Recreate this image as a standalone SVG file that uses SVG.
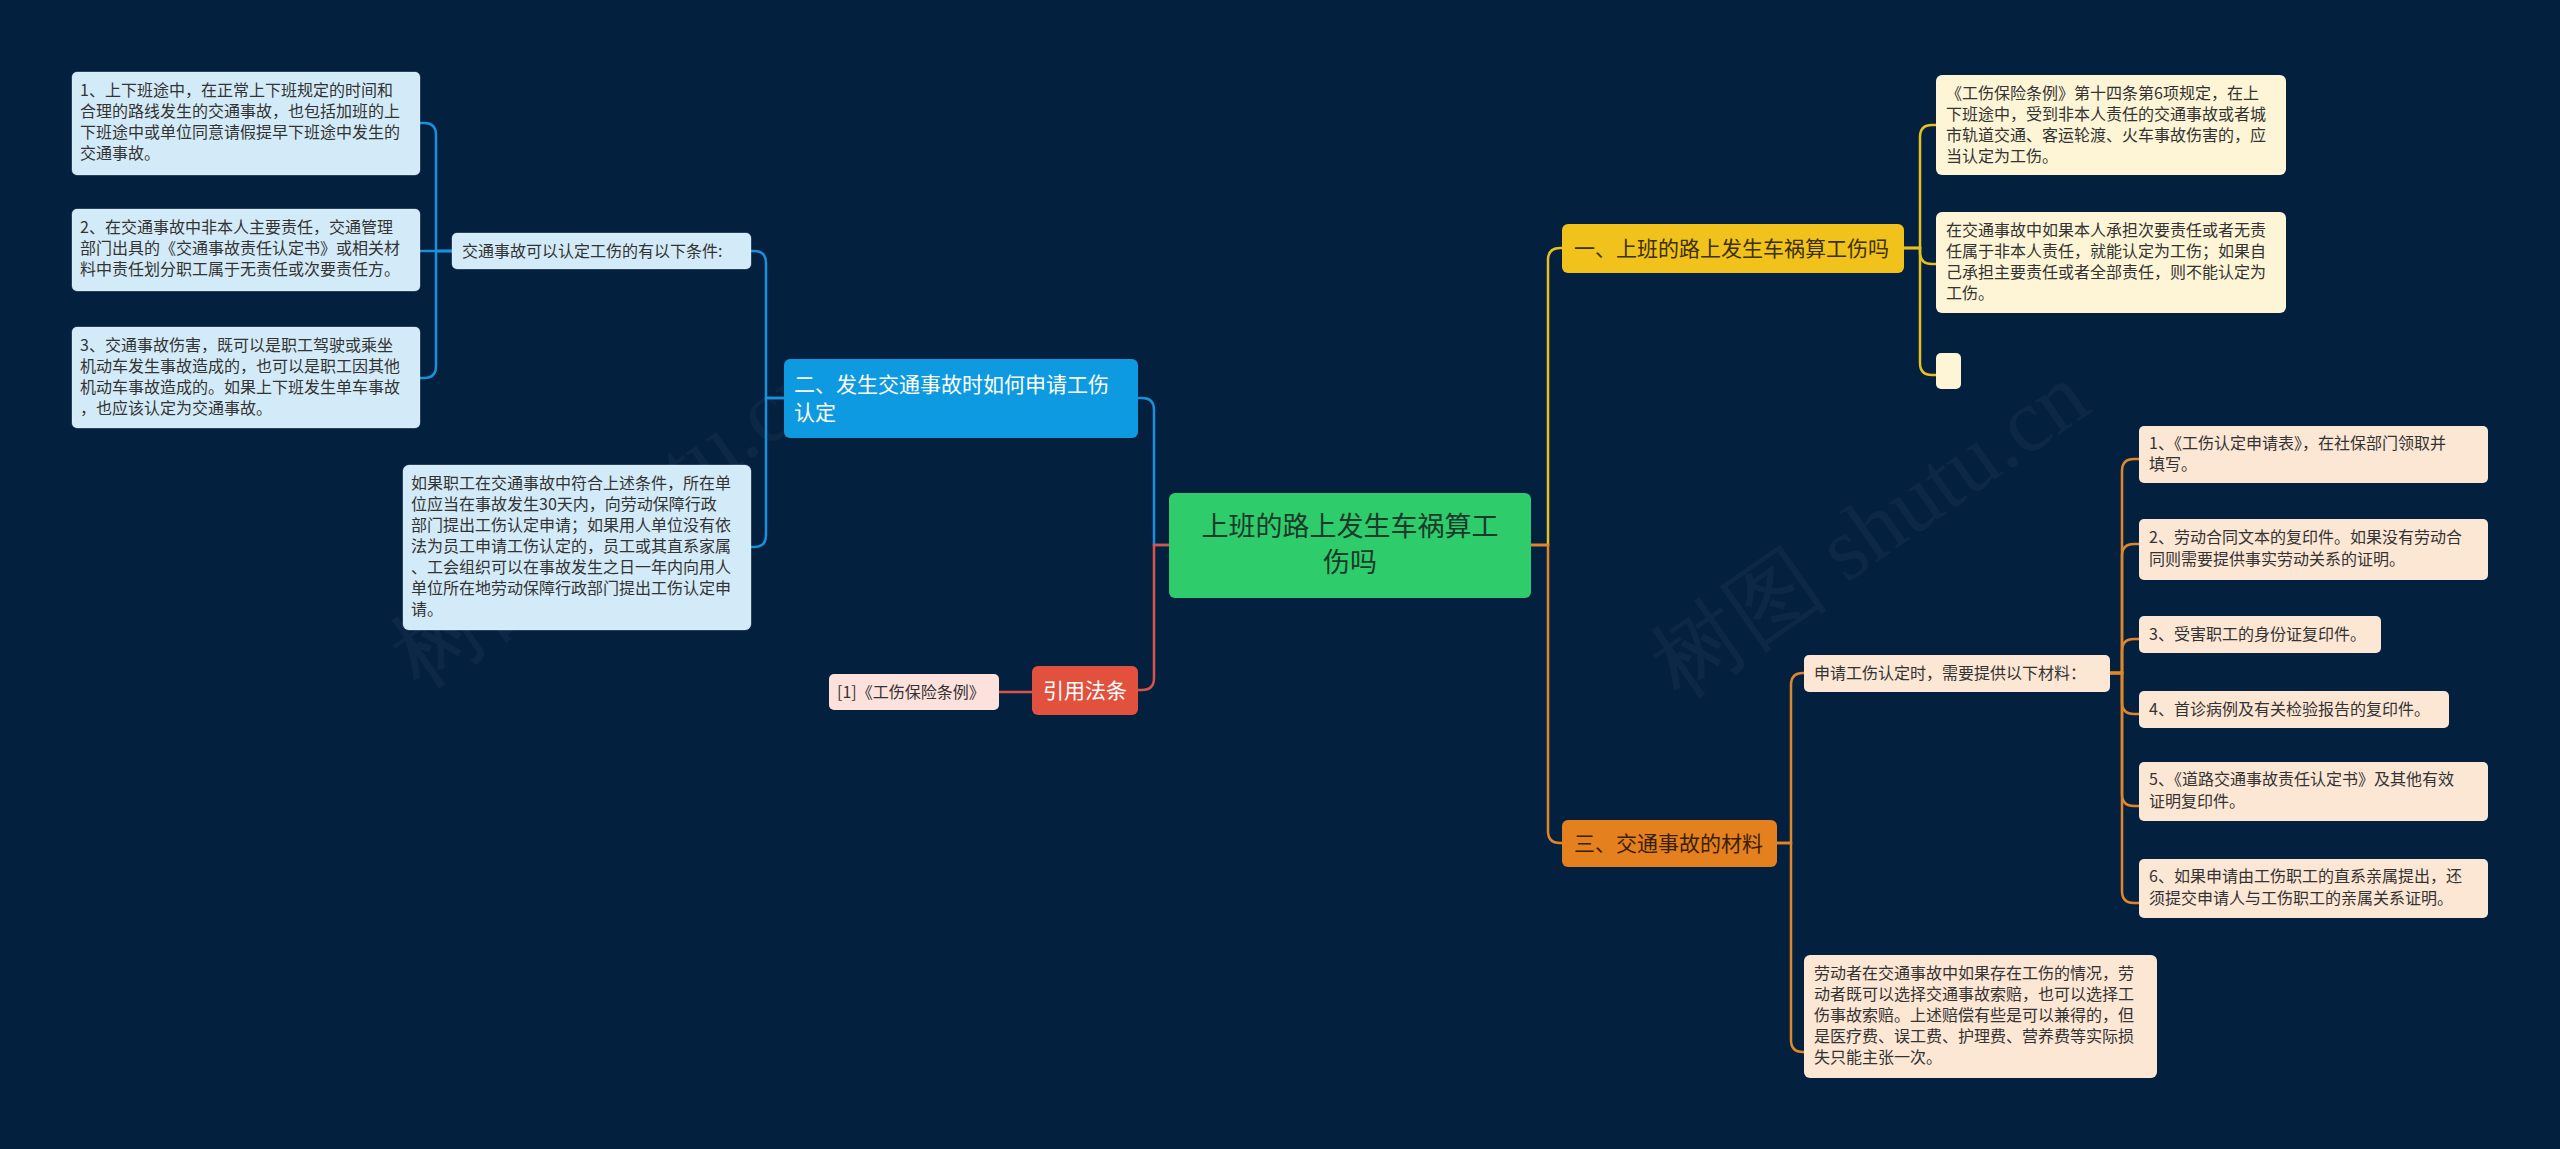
<svg xmlns="http://www.w3.org/2000/svg" width="2560" height="1149" viewBox="0 0 2560 1149">
<style>
text{font-family:"Noto Sans CJK SC","Noto Sans",sans-serif;}
.s{font-size:16px;fill:#333;}
.b{font-size:21px;}
.lb{fill:#d3ebf8;stroke:#ffffff;stroke-opacity:.3;}
.py{fill:#fdf5d6;}
.pc{fill:#fce6d4;}
.cb{fill:none;stroke:#1a8fdc;stroke-width:2.5;}
.cy{fill:none;stroke:#e8bf20;stroke-width:2.5;}
.co{fill:none;stroke:#e0862a;stroke-width:2.5;}
.cr{fill:none;stroke:#d9534a;stroke-width:2.5;}
.wm{font-family:"Liberation Serif",serif;font-size:90px;fill:#ffffff;fill-opacity:0.04;}
</style>
<rect width="2560" height="1149" fill="#03203f"/>
<text class="wm" transform="translate(420,690) rotate(-35)">树图 shutu.cn</text>
<text class="wm" transform="translate(1680,700) rotate(-35)">树图 shutu.cn</text>
<g id="connectors">
<path class="cy" d="M1531 545 L1548 545 L1548 260 Q1548 248 1560 248 L1562 248"/>
<path class="co" d="M1531 545 L1548 545 L1548 831 Q1548 843 1560 843 L1562 843"/>
<path class="cy" d="M1904 248 L1920 248 L1920 137 Q1920 125 1932 125 L1936 125"/>
<path class="cy" d="M1904 248 L1920 248 L1920 252 Q1920 264 1932 264 L1936 264"/>
<path class="cy" d="M1904 248 L1920 248 L1920 363 Q1920 375 1932 375 L1936 375"/>
<path class="co" d="M1777 843 L1791 843 L1791 685 Q1791 673 1803 673 L1804 673"/>
<path class="co" d="M1777 843 L1791 843 L1791 1040 Q1791 1052 1803 1052 L1804 1052"/>
<path class="co" d="M2110 673 L2122 673 L2122 471 Q2122 459 2134 459 L2139 459"/>
<path class="co" d="M2110 673 L2122 673 L2122 556 Q2122 544 2134 544 L2139 544"/>
<path class="co" d="M2110 673 L2122 673 L2122 651 Q2122 639 2134 639 L2139 639"/>
<path class="co" d="M2110 673 L2122 673 L2122 702 Q2122 714 2134 714 L2139 714"/>
<path class="co" d="M2110 673 L2122 673 L2122 794 Q2122 806 2134 806 L2139 806"/>
<path class="co" d="M2110 673 L2122 673 L2122 891 Q2122 903 2134 903 L2139 903"/>
<path class="cb" d="M1169 545 L1154 545 L1154 410 Q1154 398 1142 398 L1138 398"/>
<path class="cr" d="M1169 545 L1154 545 L1154 678 Q1154 690 1142 690 L1138 690"/>
<path class="cb" d="M784 398 L766 398 L766 263 Q766 251 754 251 L751 251"/>
<path class="cb" d="M784 398 L766 398 L766 535 Q766 547 754 547 L751 547"/>
<path class="cb" d="M452 251 L436 251 L436 135 Q436 123 424 123 L420 123"/>
<path class="cb" d="M452 251 L420 251"/>
<path class="cb" d="M452 251 L436 251 L436 366 Q436 378 424 378 L420 378"/>
<path class="cr" d="M1032 692 L999 692"/>
</g>
<g id="center"><rect x="1169" y="493" width="362" height="105" rx="6" fill="#2fcc6b"/>
<text x="1350" y="536" font-size="27" fill="#1a3a2a" text-anchor="middle">上班的路上发生车祸算工</text>
<text x="1350" y="572" font-size="27" fill="#1a3a2a" text-anchor="middle">伤吗</text></g>
<g id="b1"><rect x="1562" y="224" width="342" height="49" rx="6" fill="#f1c21b"/>
<text class="b" x="1574" y="256" fill="#3a3000">一、上班的路上发生车祸算工伤吗</text></g>
<g id="b1c1"><rect class="py" x="1936" y="75" width="350" height="100" rx="6"/>
<text class="s"><tspan x="1946" y="99">《工伤保险条例》第十四条第6项规定，在上</tspan><tspan x="1946" y="120">下班途中，受到非本人责任的交通事故或者城</tspan><tspan x="1946" y="141">市轨道交通、客运轮渡、火车事故伤害的，应</tspan><tspan x="1946" y="162">当认定为工伤。</tspan></text></g>
<g id="b1c2"><rect class="py" x="1936" y="212" width="350" height="101" rx="6"/>
<text class="s"><tspan x="1946" y="236">在交通事故中如果本人承担次要责任或者无责</tspan><tspan x="1946" y="257">任属于非本人责任，就能认定为工伤；如果自</tspan><tspan x="1946" y="278">己承担主要责任或者全部责任，则不能认定为</tspan><tspan x="1946" y="299">工伤。</tspan></text></g>
<g id="b1c3"><rect class="py" x="1936" y="353" width="25" height="36" rx="5"/></g>
<g id="b3"><rect x="1562" y="820" width="215" height="47" rx="6" fill="#e5801f"/>
<text class="b" x="1574" y="851" fill="#3a1e00">三、交通事故的材料</text></g>
<g id="b3c1"><rect class="pc" x="1804" y="655" width="306" height="37" rx="5"/>
<text class="s" x="1814" y="679">申请工伤认定时，需要提供以下材料：</text></g>
<g id="m1"><rect class="pc" x="2139" y="426" width="349" height="57" rx="5"/>
<text class="s"><tspan x="2149" y="449">1、《工伤认定申请表》，在社保部门领取并</tspan><tspan x="2149" y="470">填写。</tspan></text></g>
<g id="m2"><rect class="pc" x="2139" y="519" width="349" height="61" rx="5"/>
<text class="s"><tspan x="2149" y="543">2、劳动合同文本的复印件。如果没有劳动合</tspan><tspan x="2149" y="565">同则需要提供事实劳动关系的证明。</tspan></text></g>
<g id="m3"><rect class="pc" x="2139" y="616" width="242" height="37" rx="5"/>
<text class="s" x="2149" y="640">3、受害职工的身份证复印件。</text></g>
<g id="m4"><rect class="pc" x="2139" y="691" width="310" height="37" rx="5"/>
<text class="s" x="2149" y="715">4、首诊病例及有关检验报告的复印件。</text></g>
<g id="m5"><rect class="pc" x="2139" y="762" width="349" height="59" rx="5"/>
<text class="s"><tspan x="2149" y="785">5、《道路交通事故责任认定书》及其他有效</tspan><tspan x="2149" y="807">证明复印件。</tspan></text></g>
<g id="m6"><rect class="pc" x="2139" y="859" width="349" height="59" rx="5"/>
<text class="s"><tspan x="2149" y="882">6、如果申请由工伤职工的直系亲属提出，还</tspan><tspan x="2149" y="904">须提交申请人与工伤职工的亲属关系证明。</tspan></text></g>
<g id="b3c2"><rect class="pc" x="1804" y="955" width="353" height="123" rx="6"/>
<text class="s"><tspan x="1814" y="979">劳动者在交通事故中如果存在工伤的情况，劳</tspan><tspan x="1814" y="1000">动者既可以选择交通事故索赔，也可以选择工</tspan><tspan x="1814" y="1021">伤事故索赔。上述赔偿有些是可以兼得的，但</tspan><tspan x="1814" y="1042">是医疗费、误工费、护理费、营养费等实际损</tspan><tspan x="1814" y="1063">失只能主张一次。</tspan></text></g>
<g id="b2"><rect x="784" y="359" width="354" height="79" rx="6" fill="#0e9ae0"/>
<text class="b" fill="#ffffff"><tspan x="794" y="392">二、发生交通事故时如何申请工伤</tspan><tspan x="794" y="420">认定</tspan></text></g>
<g id="b2c1"><rect class="lb" x="452" y="233" width="299" height="36" rx="5"/>
<text class="s" x="462" y="257">交通事故可以认定工伤的有以下条件:</text></g>
<g id="l1"><rect class="lb" x="72" y="72" width="348" height="103" rx="5"/>
<text class="s"><tspan x="80" y="96">1、上下班途中，在正常上下班规定的时间和</tspan><tspan x="80" y="117">合理的路线发生的交通事故，也包括加班的上</tspan><tspan x="80" y="138">下班途中或单位同意请假提早下班途中发生的</tspan><tspan x="80" y="159">交通事故。</tspan></text></g>
<g id="l2"><rect class="lb" x="72" y="209" width="348" height="82" rx="5"/>
<text class="s"><tspan x="80" y="233">2、在交通事故中非本人主要责任，交通管理</tspan><tspan x="80" y="254">部门出具的《交通事故责任认定书》或相关材</tspan><tspan x="80" y="275">料中责任划分职工属于无责任或次要责任方。</tspan></text></g>
<g id="l3"><rect class="lb" x="72" y="327" width="348" height="101" rx="5"/>
<text class="s"><tspan x="80" y="351">3、交通事故伤害，既可以是职工驾驶或乘坐</tspan><tspan x="80" y="372">机动车发生事故造成的，也可以是职工因其他</tspan><tspan x="80" y="393">机动车事故造成的。如果上下班发生单车事故</tspan><tspan x="80" y="414">，也应该认定为交通事故。</tspan></text></g>
<g id="b2c2"><rect class="lb" x="403" y="465" width="348" height="165" rx="6"/>
<text class="s"><tspan x="411" y="489">如果职工在交通事故中符合上述条件，所在单</tspan><tspan x="411" y="510">位应当在事故发生30天内，向劳动保障行政</tspan><tspan x="411" y="531">部门提出工伤认定申请；如果用人单位没有依</tspan><tspan x="411" y="552">法为员工申请工伤认定的，员工或其直系家属</tspan><tspan x="411" y="573">、工会组织可以在事故发生之日一年内向用人</tspan><tspan x="411" y="594">单位所在地劳动保障行政部门提出工伤认定申</tspan><tspan x="411" y="615">请。</tspan></text></g>
<g id="b4"><rect x="1032" y="666" width="106" height="49" rx="6" fill="#e2513d"/>
<text class="b" x="1085" y="698" fill="#ffffff" text-anchor="middle">引用法条</text></g>
<g id="b4c1"><rect x="829" y="674" width="170" height="36" rx="5" fill="#fde1dd"/>
<text class="s" x="837" y="698" fill="#8a2a20">[1]《工伤保险条例》</text></g>
</svg>
